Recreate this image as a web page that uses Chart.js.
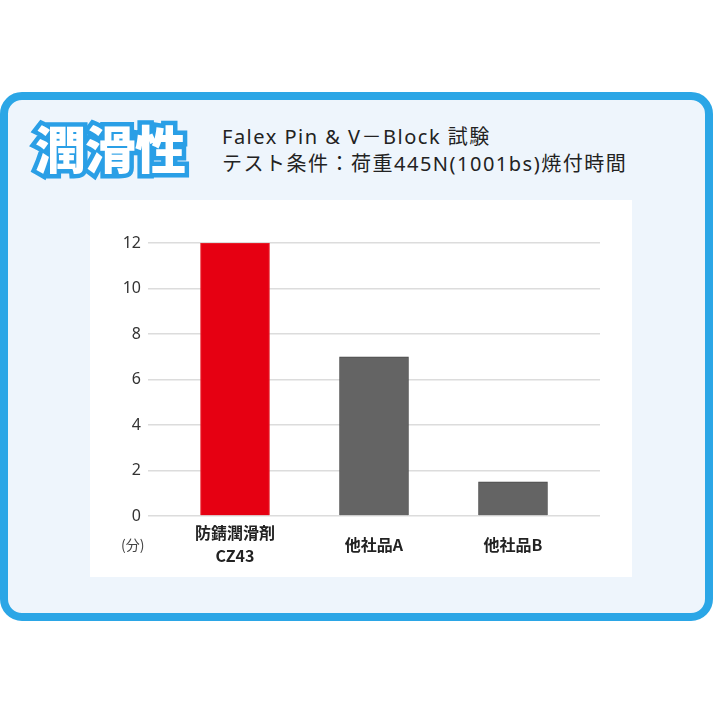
<!DOCTYPE html>
<html>
<head>
<meta charset="utf-8">
<script src="https://cdn.jsdelivr.net/npm/chart.js@4.4.1/dist/chart.umd.min.js"></script>
<style>
  html, body { margin: 0; padding: 0; background: #fff; }
  body { width: 713px; height: 713px; position: relative; overflow: hidden; }
  .frame {
    position: absolute; left: 0; top: 92px; width: 713px; height: 529px;
    box-sizing: border-box; border: 8px solid #2ba6e6; border-radius: 22px;
    background: #eef5fc;
  }
  .heading {
    position: absolute; left: 35px; top: 112px;
    font-family: "Noto Sans CJK JP", sans-serif; font-weight: 900;
    font-size: 51px; line-height: 70px; color: #fff; letter-spacing: -1px;
    -webkit-text-stroke: 9px #2a9fe6; paint-order: stroke fill;
  }
  .sub {
    position: absolute; left: 222px; top: 123px;
    font-family: "Noto Sans", "Noto Sans CJK JP", sans-serif;
    font-size: 20px; line-height: 27px; color: #222; letter-spacing: 1.5px;
  }
  .box {
    position: absolute; left: 90px; top: 200px; width: 542px; height: 377px;
    background: #fff;
  }
  .unit {
    position: absolute; left: 121px; top: 534px;
    font-family: "Noto Sans CJK JP", sans-serif; font-size: 14px; color: #444;
  }
</style>
</head>
<body>
<div class="frame"></div>
<div class="heading">潤滑性</div>
<div class="sub">Falex Pin &amp; V－Block 試験<br>テスト条件：荷重445N(1001bs)焼付時間</div>
<div class="box"><canvas id="lubeChart"></canvas></div>
<div class="unit">(分)</div>
<script>
// 焼付時間 (分)
const categories = [['防錆潤滑剤', 'CZ43'], '他社品A', '他社品B'];
const burnTimes = [12, 7, 1.5];
const barColors = ['#e60012', '#646464', '#646464'];
const barBorders = ['#e8262f', '#4a4a4a', '#4a4a4a'];
const yTicks = [0, 2, 4, 6, 8, 10, 12];

function createChart() {
    const ctx = document.getElementById('lubeChart').getContext('2d');
    const points = burnTimes.map((v, i) => ({ x: i, y: v }));

    new Chart(ctx, {
        type: 'bar',
        data: {
            datasets: [{
                data: points,
                backgroundColor: barColors,
                borderColor: barBorders,
                borderWidth: 1,
                barThickness: 69
            }]
        },
        options: {
            responsive: true,
            maintainAspectRatio: false,
            animation: false,
            layout: { padding: { top: 43, right: 32, bottom: 0, left: 0 } },
            plugins: {
                legend: { display: false },
                tooltip: { enabled: false }
            },
            scales: {
                x: {
                    type: 'linear',
                    offset: false,
                    min: -0.626,
                    max: 2.626,
                    grid: { display: false, drawTicks: false },
                    border: { display: false },
                    afterBuildTicks: scale => {
                        scale.ticks = categories.map((c, i) => ({ value: i }));
                    },
                    afterFit: scale => { scale.height = 61; },
                    ticks: {
                        autoSkip: false,
                        maxRotation: 0,
                        padding: 17,
                        crossAlign: 'center',
                        color: '#222',
                        font: { family: '"Noto Sans CJK JP", sans-serif', size: 16, weight: 'bold', lineHeight: 1.4375 },
                        callback: value => categories[value]
                    }
                },
                y: {
                    min: 0,
                    max: 12,
                    afterBuildTicks: scale => {
                        scale.ticks = yTicks.map(v => ({ value: v }));
                    },
                    afterFit: scale => { scale.width = 58; },
                    grid: { color: '#dcdcdc', lineWidth: 1.5, drawTicks: false },
                    border: { display: false },
                    ticks: {
                        padding: 7,
                        color: '#333',
                        font: { family: '"Noto Sans", sans-serif', size: 16 }
                    }
                }
            }
        }
    });
}

document.addEventListener('DOMContentLoaded', createChart);
</script>
</body>
</html>
